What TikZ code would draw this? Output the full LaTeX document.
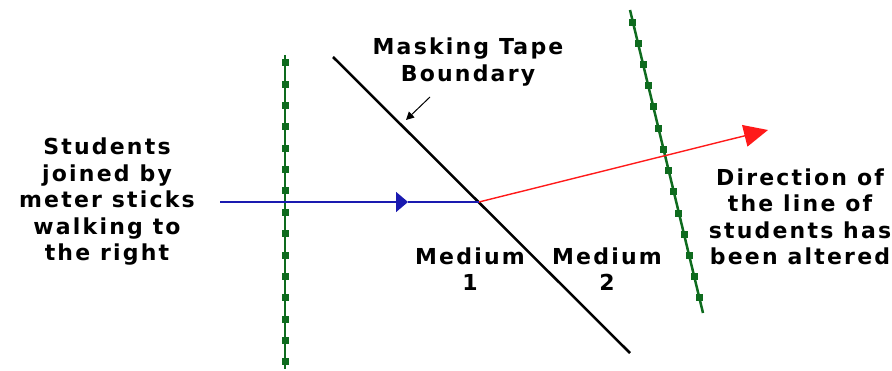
\documentclass[tikz,border=0pt]{standalone}
\usepackage{fontspec}
\setmainfont{DejaVu Sans}[LetterSpace=10]
\usepackage{tikz}
\usetikzlibrary{arrows.meta, calc}
\definecolor{tapeblack}{HTML}{000000}
\definecolor{walkblue}{HTML}{1A1AB0}
\definecolor{bentred}{HTML}{FF1A1A}
\definecolor{stickgreen}{HTML}{0E6B1E}
\tikzset{
  label text/.style={font=\bfseries\fontsize{22}{26.5}\selectfont, align=center, inner sep=0pt},
  stick line/.style={stickgreen, line width=2.5pt},
}
\begin{document}
\begin{tikzpicture}[x=1pt, y=-1pt]
    \useasboundingbox (0,0) rectangle (892,371);
    % Meter stick lines
    \coordinate (lefttop) at (285,55);
    \coordinate (leftbot) at (285,369);
    \coordinate (righttop) at (630,10);
    \coordinate (rightbot) at (703,313);
    \draw[stick line] (lefttop) -- (leftbot);
    \draw[stick line] (righttop) -- (rightbot);
    \foreach \t in {0.025,0.093,...,1.0}
      \fill[stickgreen] ($(lefttop)!\t!(leftbot)$) ++(-3.5,-3.5) rectangle ++(7,7);
    \foreach \t in {0.04,0.11,...,1.0}
      \fill[stickgreen] ($(righttop)!\t!(rightbot)$) ++(-3.5,-3.5) rectangle ++(7,7);
    % Boundary
    \coordinate (tapetop) at (333,57);
    \coordinate (tapebot) at (630,353);
    \draw[tapeblack, line width=2.5pt] (tapetop) -- (tapebot);
    % Rays
    \coordinate (walkstart) at (220,202);
    \coordinate (walkmid) at (408,202);
    \coordinate (hit) at (479,202);
    \coordinate (bentend) at (768,130);
    \draw[walkblue, line width=1.6pt, -{Triangle[length=12pt, width=20pt]}] (walkstart) -- (walkmid);
    \draw[walkblue, line width=1.6pt] (walkmid) -- (hit);
    \draw[bentred, line width=1.4pt, -{Triangle[length=24pt, width=22pt]}] (hit) -- (bentend);
    % Labels
    \node[label text] (tape) at (468,62) {Masking Tape\\Boundary};
    \coordinate (tapetail) at (430,97);
    \coordinate (tapehead) at (406,120);
    \draw[tapeblack, line width=1pt, -{Triangle[length=8pt, width=8pt]}] (tapetail) -- (tapehead);
    \node[label text] (students) at (107,202) {Students\\joined by\\meter sticks\\walking to\\the right};
    \node[label text] (altered) at (800,217) {Direction of\\the line of\\students has\\been altered};
    \node[label text] (medone) at (470,269) {Medium\\1};
    \node[label text] (medtwo) at (607,269) {Medium\\2};
\end{tikzpicture}
\end{document}
